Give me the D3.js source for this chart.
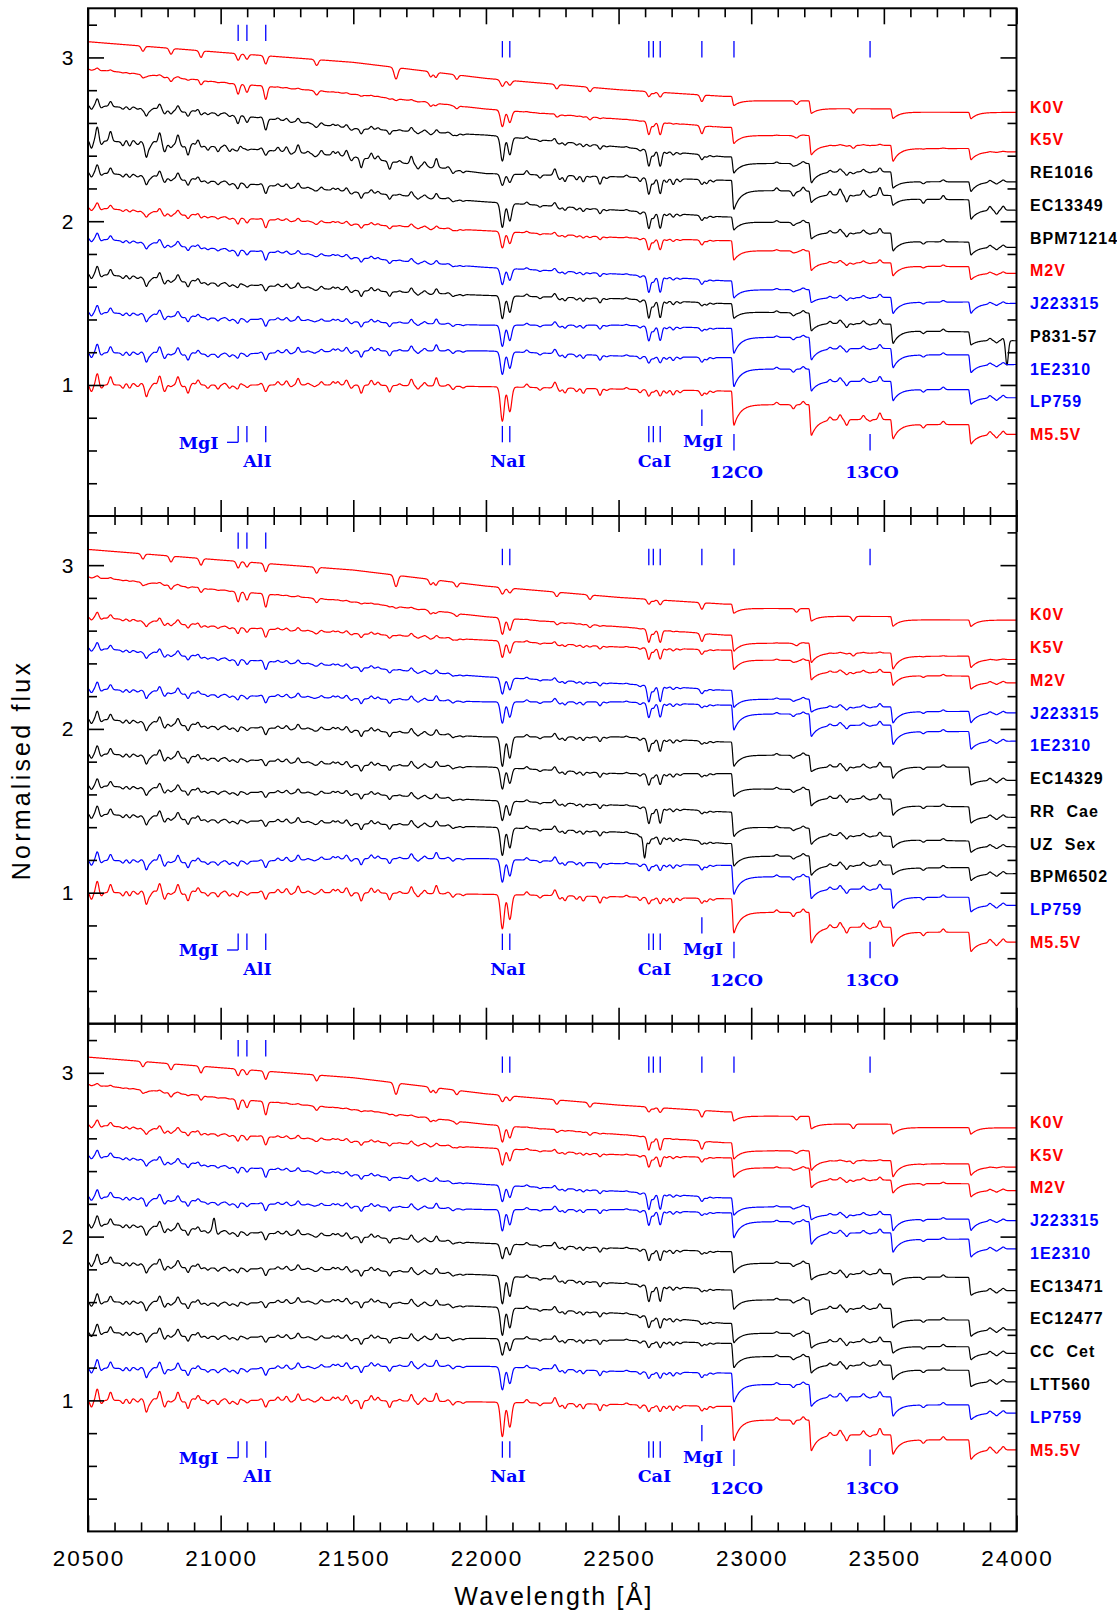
<!DOCTYPE html>
<html><head><meta charset="utf-8">
<script src="https://cdn.jsdelivr.net/npm/d3@7"></script>
<style>body{margin:0;background:#fff}svg{display:block}</style>
</head><body><svg id="c" width="1117" height="1614"></svg>
<script>
// ---------------- DATA ----------------
const specNames = ["K0V","K5V","M2V","J223315","1E2310","LP759","M5.5V","RE1016","EC13349","BPM71214","P831-57","EC14329","RR Cae","UZ Sex","BPM6502","EC13471","EC12477","CC Cet","LTT560"];
// pseudo-continuum (relative to the row level) at these wavelengths
const contWave = [20500, 21000, 21500, 22000, 22500, 22900, 24000];
const contRel = [
  [0.396,0.331,0.270,0.172,0.103,0.062,0.057],
  [0.430,0.348,0.276,0.185,0.124,0.073,0.074],
  [0.385,0.324,0.283,0.242,0.200,0.181,0.171],
  [0.397,0.330,0.279,0.218,0.177,0.136,0.144],
  [0.347,0.306,0.286,0.265,0.265,0.245,0.250],
  [0.298,0.287,0.308,0.308,0.277,0.267,0.267],
  [0.300,0.300,0.300,0.290,0.275,0.263,0.261],
  [0.409,0.358,0.266,0.226,0.154,0.093,0.090],
  [0.395,0.354,0.293,0.191,0.171,0.150,0.127],
  [0.400,0.340,0.279,0.218,0.167,0.126,0.110],
  [0.380,0.319,0.278,0.247,0.227,0.197,0.170],
  [0.363,0.312,0.292,0.251,0.251,0.220,0.216],
  [0.350,0.319,0.278,0.268,0.227,0.227,0.200],
  [0.356,0.315,0.305,0.264,0.234,0.193,0.160],
  [0.383,0.342,0.322,0.301,0.270,0.200,0.216],
  [0.382,0.331,0.300,0.259,0.229,0.208,0.200],
  [0.347,0.306,0.296,0.266,0.215,0.174,0.170],
  [0.303,0.293,0.303,0.272,0.232,0.170,0.167],
  [0.319,0.289,0.278,0.278,0.268,0.248,0.243]
];
// 12CO bandheads (2-0, 3-1, 4-2, 5-3)
const bandheads = [22935, 23227, 23535, 23829];
const coStep = [
  [0.026,0.047,0.020,0.000],[0.050,0.060,0.020,0.020],[0.060,0.070,0.020,0.040],
  [0.056,0.050,0.030,0.010],[0.055,0.070,0.040,0.060],[0.070,0.075,0.050,0.050],
  [0.083,0.090,0.030,0.060],[0.040,0.050,0.060,0.000],[0.060,0.020,0.020,0.060],
  [0.030,0.060,0.050,0.030],[0.050,0.060,0.040,0.050],[0.080,0.070,0.000,0.080],
  [0.090,0.050,0.040,0.060],[0.090,0.040,0.020,0.030],[0.080,0.060,0.020,0.040],
  [0.070,0.060,0.020,0.080],[0.060,0.050,0.070,0.060],[0.060,0.050,0.030,0.040],
  [0.080,0.050,0.030,0.070]
];
const coPeak = [
  [0.030,0.030,0.040,0.040],[0.050,0.060,0.080,0.050],[0.060,0.050,0.060,0.040],
  [0.050,0.030,0.070,0.060],[0.100,0.070,0.080,0.050],[0.110,0.060,0.070,0.040],
  [0.130,0.100,0.090,0.060],[0.060,0.070,0.040,0.060],[0.120,0.050,0.040,0.060],
  [0.050,0.040,0.060,0.050],[0.040,0.050,0.080,0.030],[0.070,0.030,0.070,0.030],
  [0.050,0.050,0.060,0.040],[0.060,0.060,0.050,0.040],[0.060,0.060,0.040,0.040],
  [0.060,0.040,0.050,0.030],[0.060,0.040,0.050,0.040],[0.060,0.040,0.040,0.040],
  [0.070,0.050,0.060,0.030]
];
// line lists [wavelength, relative strength]
const mgalLines = [[21066,0.8],[21099,0.6],[21170,1.0]];
const naLines   = [[22062,1.0],[22090,0.72]];
const caLines   = [[22614,1.0],[22631,0.35],[22657,0.95]];
const mgLines   = [[22814,1.0]];
const brLines   = [[21661,1.0]];
const kLines    = [[20707,0.7],[20813,0.8],[20926,0.9],[21362,0.8],[21792,0.7],[21811,0.7],[21890,0.6],[22267,0.6],[22392,0.6],[23171,0.5],[23385,0.6]];
// small-scale structure [wavelength, depth (+) / bump (-)]
const texture = [[20513,0.04],[20535,-0.07],[20550,0.02],[20585,-0.05],[20632,0.02],[20644,-0.01],[20657,0.02],[20670,-0.01],[20688,0.01],[20701,-0.01],[20720,0.07],[20732,0.02],[20751,-0.01],[20770,-0.055],[20789,0.04],[20812,0.01],[20839,-0.05],[20858,0.01],[20877,0.05],[20896,-0.01],[20915,-0.03],[20952,0.02],[20990,0.025],[21015,-0.01],[21034,0.02],[21053,0.01],[21072,-0.02],[21097,-0.01],[21153,-0.01],[21216,-0.02],[21248,-0.025],[21266,0.01],[21292,-0.04],[21329,-0.01],[21354,0.01],[21380,-0.02],[21424,-0.02],[21442,-0.02],[21474,-0.03],[21493,0.02],[21530,0.05],[21568,-0.03],[21593,-0.02],[21637,0.04],[21675,-0.01],[21719,-0.04],[21744,0.02],[21769,-0.02],[21813,-0.05],[21857,-0.01],[21876,0.02],[21914,0.01],[22154,-0.02],[22204,0.016],[22260,-0.035],[22279,0.02],[22298,0.03],[22342,0.02],[22367,0.03],[22430,0.04],[22455,0.01],[22530,-0.01],[22581,0.02],[22681,0.02],[22706,0.03],[22732,0.015],[22832,0.02],[22857,0.01],[23096,-0.015],[23159,0.025],[23196,-0.02],[23297,-0.02],[23335,-0.03],[23360,0.035],[23423,-0.025],[23448,0.01],[23485,-0.04],[23649,0.02],[23724,-0.02],[23900,-0.02],[23925,0.02],[23950,-0.02]];
// per-spectrum line depths (same order as specNames)
const depthMgAl = [0.05,0.08,0.05,0.05,0.04,0.04,0.04,0.07,0.03,0.05,0.03,0.04,0.03,0.03,0.03,0.04,0.04,0.03,0.03];
const depthNa   = [0.04,0.10,0.10,0.10,0.13,0.14,0.21,0.15,0.07,0.15,0.14,0.18,0.13,0.12,0.17,0.09,0.17,0.17,0.10];
const depthCa   = [0.03,0.08,0.07,0.10,0.09,0.04,0.04,0.10,0.10,0.10,0.11,0.08,0.07,0.10,0.05,0.07,0.10,0.07,0.04];
const depthMg   = [0.04,0.05,0.03,0.03,0.02,0.03,0.03,0.03,0.03,0.03,0.02,0.02,0.02,0.02,0.02,0.02,0.02,0.02,0.02];
const depthBr   = [0.07,0.01,0,0,0,0,0,0,0,0,0,0,0,0,0,0,0,0,0];
const depthK    = [0.045,0.03,0.015,0.01,0,0,0,0.02,0.01,0.01,0.01,0.01,0.01,0.01,0.01,0.01,0.01,0.01,0.01];
const textureScale = [0,0.15,0.45,0.5,0.6,0.75,1.0,0.6,1.2,0.7,0.7,0.7,0.7,0.6,0.7,0.7,0.7,0.7,0.7];
// individual features [spectrum, wavelength, depth]
const extraFeatures = [["P831-57",23964,0.15],["BPM6502",22598,0.14],["EC13471",20975,-0.08]];
// rows of the three panels and their levels
const panelRows = [
  ["K0V","K5V","RE1016","EC13349","BPM71214","M2V","J223315","P831-57","1E2310","LP759","M5.5V"],
  ["K0V","K5V","M2V","J223315","1E2310","EC14329","RR Cae","UZ Sex","BPM6502","LP759","M5.5V"],
  ["K0V","K5V","M2V","J223315","1E2310","EC13471","EC12477","CC Cet","LTT560","LP759","M5.5V"]
];
const rowLevels = [2.7,2.5,2.3,2.1,1.9,1.7,1.5,1.3,1.1,0.9,0.7];
const xTickLabels = [20500,21000,21500,22000,22500,23000,23500,24000];
const yTickLabels = [1,2,3];
// spectral feature markers
const featureNames = ["MgI","AlI","NaI","CaI","MgI","12CO","13CO"];
const featureWaves = [[21066],[21099,21170],[22062,22090],[22614,22631,22657],[22814],[22935],[23448]];

// ---------------- STYLE / LAYOUT ----------------
const RED="#ff0000", BLUE="#0000ff", BLACK="#000000";
const colorOf = n => (["K0V","K5V","M2V","M5.5V"].includes(n) ? RED : ["J223315","1E2310","LP759"].includes(n) ? BLUE : BLACK);
const W=1117, H=1614, L=88, R=1016.5, PH=507.7;
const panelTops=[8.3, 516, 1023.7];
const svg=d3.select("#c");
svg.append("rect").attr("width",W).attr("height",H).attr("fill","#fff");
const x=d3.scaleLinear().domain([20500,24000]).range([L,R]);
const contScales = contRel.map(r=>d3.scaleLinear().domain(contWave).range(r));

function flux(i,l){
  let f=contScales[i](l);
  const add=(list,dep,s)=>{ if(!dep) return; for(const [c,r] of list){ const d=l-c; if(Math.abs(d)<5*s) f-=dep*r*Math.exp(-0.5*(d/s)*(d/s)); } };
  add(mgalLines,depthMgAl[i],6); add(naLines,depthNa[i],7); add(caLines,depthCa[i],6);
  add(mgLines,depthMg[i],6); add(brLines,depthBr[i],7); add(kLines,depthK[i],6); add(texture,textureScale[i],5.5);
  bandheads.forEach((b,k)=>{ const dx=l-b; if(dx<-10) return;
    const ramp = dx>=0?1:(1-Math.cos(Math.PI*(dx+10)/10))/2;
    f-=ramp*(coStep[i][k]+coPeak[i][k]*Math.exp(-Math.max(dx,0)/24)); });
  for(const [n,c,dep] of extraFeatures){ if(specNames[i]===n){ const d=l-c; f-=dep*Math.exp(-0.5*(d/5)*(d/5)); } }
  return f;
}
const grid=d3.range(20500,24000.01,2);

const majorX=d3.range(20500,24001,500), minorX=d3.range(20500,24001,100).filter(v=>v%500!==0);
const fontTick="'Liberation Sans', Arial, sans-serif";
const fontFeat="'DejaVu Serif', serif";

panelTops.forEach((top,p)=>{
  const y=d3.scaleLinear().domain([0.2,3.3]).range([top+PH,top]);
  const g=svg.append("g");
  const line=d3.line().x(d=>x(d[0])).y(d=>y(d[1])).curve(d3.curveMonotoneX);
  panelRows[p].forEach((name,r)=>{
    const i=specNames.indexOf(name);
    const pts=grid.map(l=>[l, rowLevels[r]+flux(i,l)]);
    g.append("path").attr("d",line(pts)).attr("fill","none").attr("stroke",colorOf(name)).attr("stroke-width",1.2).attr("stroke-linejoin","round");
    g.append("text").attr("x",1030).attr("y",y(rowLevels[r])+6).text(name)
      .attr("fill",colorOf(name)).attr("font-family",fontTick).attr("font-weight","bold")
      .attr("font-size",16).attr("letter-spacing",1).attr("word-spacing",6).style("white-space","pre");
  });
  const mk=(l,v0,v1)=>g.append("line").attr("x1",x(l)).attr("x2",x(l)).attr("y1",y(v0)).attr("y2",y(v1)).attr("stroke",BLUE).attr("stroke-width",1.3);
  featureWaves.forEach((ws,k)=>ws.forEach(l=>{
    if(k<=1) mk(l,3.1,3.2); else mk(l,3.0,3.1);
    if(k<=3) mk(l,0.65,0.75); else if(k===4) mk(l,0.75,0.85); else mk(l,0.6,0.7);
  }));
  g.append("line").attr("x1",x(21024)).attr("x2",x(21066)).attr("y1",y(0.65)).attr("y2",y(0.65)).attr("stroke",BLUE).attr("stroke-width",1.3);
  const labelPos=[[20992,0.612,"end"],[21139,0.50,"middle"],[22083,0.50,"middle"],[22635,0.50,"middle"],[22818,0.62,"middle"],[22944,0.43,"middle"],[23455,0.43,"middle"]];
  featureNames.forEach((t,k)=>{
    g.append("text").attr("x",x(labelPos[k][0])).attr("y",y(labelPos[k][1])).attr("text-anchor",labelPos[k][2])
      .attr("fill",BLUE).attr("font-family",fontFeat).attr("font-weight","bold").attr("font-size",17.5).text(t);
  });
  g.append("rect").attr("x",L).attr("y",top).attr("width",R-L).attr("height",PH).attr("fill","none").attr("stroke","#000").attr("stroke-width",2);
  const tk=(axis,tr)=>{ const a=g.append("g").attr("transform",tr).call(axis); a.select(".domain").remove(); a.selectAll("line").attr("stroke","#000").attr("stroke-width",1.6); a.selectAll("text").remove(); };
  tk(d3.axisBottom(x).tickValues(majorX).tickSize(-16),`translate(0,${top+PH})`);
  tk(d3.axisBottom(x).tickValues(minorX).tickSize(-9),`translate(0,${top+PH})`);
  tk(d3.axisTop(x).tickValues(majorX).tickSize(-16),`translate(0,${top})`);
  tk(d3.axisTop(x).tickValues(minorX).tickSize(-9),`translate(0,${top})`);
  const majY=[1,2,3], minY=d3.range(0.4,3.3,0.2).filter(v=>Math.abs(v-Math.round(v))>0.01);
  tk(d3.axisLeft(y).tickValues(majY).tickSize(-16),`translate(${L},0)`);
  tk(d3.axisLeft(y).tickValues(minY).tickSize(-9),`translate(${L},0)`);
  tk(d3.axisRight(y).tickValues(majY).tickSize(-16),`translate(${R},0)`);
  tk(d3.axisRight(y).tickValues(minY).tickSize(-9),`translate(${R},0)`);
  yTickLabels.forEach(v=>g.append("text").attr("x",73.5).attr("y",y(v)+7.5).attr("text-anchor","end")
    .attr("font-family",fontTick).attr("font-size",21).text(v));
});
xTickLabels.forEach(v=>svg.append("text").attr("x",x(v)+1).attr("y",1566).attr("text-anchor","middle")
  .attr("font-family",fontTick).attr("font-size",22.5).attr("letter-spacing",2).text(v));
svg.append("text").attr("x",554).attr("y",1605).attr("text-anchor","middle").attr("font-family",fontTick)
  .attr("font-size",25).attr("letter-spacing",2.2).text("Wavelength [Å]");
svg.append("text").attr("transform","translate(30,770) rotate(-90)").attr("text-anchor","middle").attr("font-family",fontTick)
  .attr("font-size",25).attr("letter-spacing",3.2).text("Normalised flux");
</script></body></html>
